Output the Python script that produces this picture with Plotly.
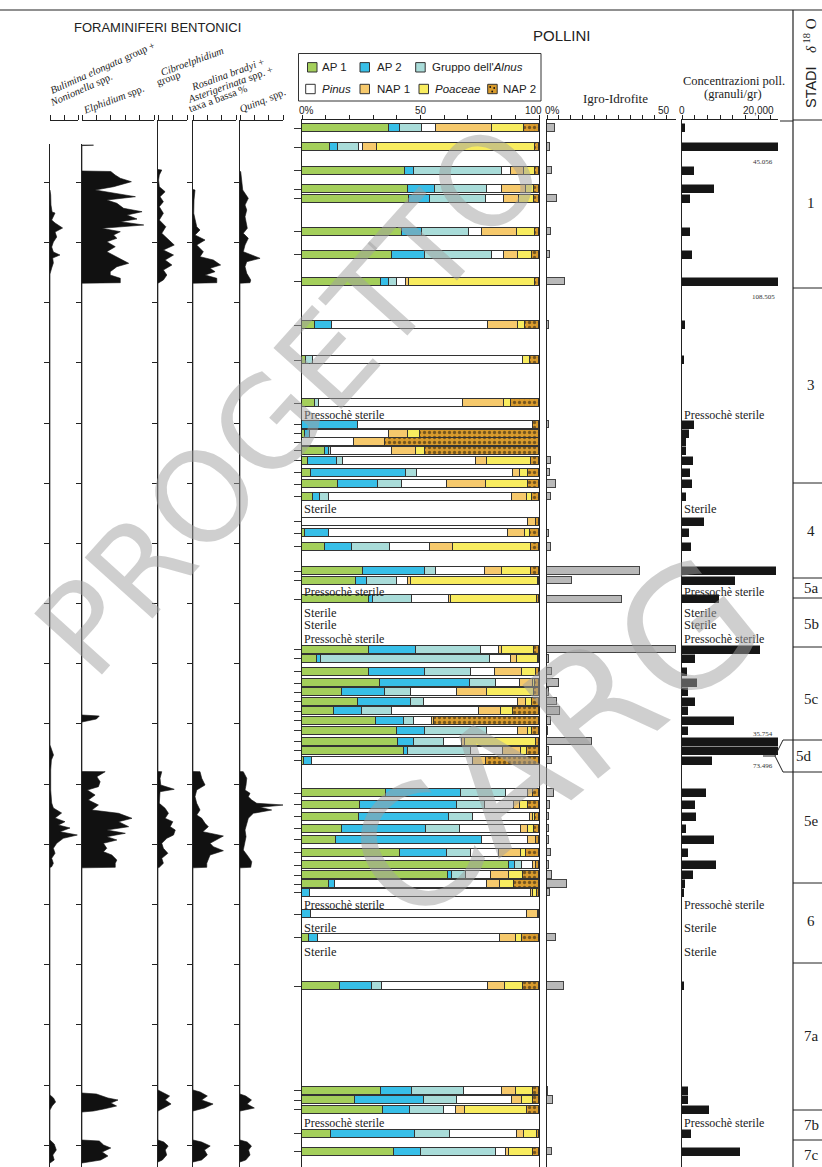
import plotly.graph_objects as go

W, H = 822, 1167
def px(x): return x / W
def py(y): return 1 - y / H

# ---------------- DATA ----------------
sample_depth = [128, 147, 170.5, 189, 198.7, 231.7, 254.7, 281.7, 325, 360, 403.3, 424.7, 433.7, 442,
                450.5, 460.5, 472.5, 484, 496.7, 521.5, 533.3, 546.8, 571, 580.5, 599.3, 649.5, 658.8,
                671.7, 683, 692, 701.5, 711, 720.8, 730.8, 741.5, 750.8, 760.5, 793.2, 804.8, 816.5,
                828.5, 839.8, 852.5, 865.2, 875.2, 884.2, 892.5, 914.2, 937.5, 986, 1090.8, 1100.2,
                1109.8, 1133.5, 1151.5]

ap1 = [36.6, 12.0, 43.4, 44.6, 45.2, 42.0, 38.0, 33.5, 5.5, 1.7, 5.4, 0, 1.1, 0, 9.6, 2.5, 3.8, 15.1, 4.5,
       0, 1.1, 9.9, 25.6, 22.8, 28.2, 28.2, 6.3, 28.2, 32.7, 16.9, 23.5, 13.7, 31.4, 39.9, 40.4, 43.0,
       0.7, 35.5, 24.6, 24.2, 16.9, 14.4, 41.5, 87.3, 61.7, 11.3, 0, 0, 3.1, 16.0, 33.4, 22.5, 34.1,
       12.3, 38.7]
ap2 = [4.6, 3.2, 3.8, 11.4, 8.7, 8.5, 13.8, 3.1, 7.2, 0, 0, 23.7, 2.4, 0, 1.7, 12.3, 39.9, 17.0, 3.2,
       0, 10.1, 11.3, 26.5, 4.6, 1.8, 19.7, 1.7, 23.7, 38.0, 18.3, 22.5, 11.7, 11.5, 11.8, 7.0, 1.7,
       3.5, 31.7, 40.8, 37.7, 35.5, 61.4, 19.7, 2.5, 1.7, 2.5, 3.5, 3.9, 3.7, 13.5, 13.1, 28.9, 11.4,
       35.2, 11.7]
alnus = [9.4, 8.7, 37.3, 22.1, 23.9, 20.0, 28.5, 3.5, 0, 3.0, 1.7, 0, 0, 0, 1.1, 2.5, 4.9, 9.9, 3.9,
         0, 0, 15.9, 4.5, 12.7, 16.5, 27.7, 71.5, 19.3, 11.0, 10.6, 5.4, 12.7, 4.2, 26.2, 12.7, 26.5,
         0, 19.0, 12.0, 10.3, 14.1, 0, 10.1, 3.1, 5.9, 0, 0, 0, 0, 4.2, 21.8, 13.8, 14.4, 14.9, 31.5]
pinus = [5.9, 1.8, 3.5, 6.1, 7.6, 5.6, 4.9, 3.8, 65.8, 88.6, 61.0, 73.8, 33.1, 21.8, 25.6, 56.3, 40.6,
         19.3, 77.0, 95.5, 75.6, 16.9, 20.6, 4.5, 15.5, 7.5, 8.5, 10.3, 10.1, 19.4, 39.9, 36.6, 7.7,
         13.4, 7.5, 13.4, 67.9, 9.3, 12.0, 24.2, 26.1, 19.6, 12.0, 4.5, 10.3, 64.4, 93.0, 91.1, 76.6,
         44.7, 15.9, 23.5, 4.9, 28.5, 4.2]
nap1 = [23.7, 5.9, 5.6, 10.4, 6.3, 14.8, 6.1, 1.4, 12.7, 0, 17.2, 0, 8.2, 13.2, 9.9, 4.5, 2.7, 16.2,
        6.3, 3.1, 7.5, 9.7, 7.0, 1.5, 1.0, 1.1, 2.8, 11.5, 5.6, 13.0, 3.1, 9.4, 1.1, 4.2, 1.0, 7.7,
        5.4, 2.0, 2.4, 1.0, 2.8, 3.2, 8.9, 1.4, 7.7, 5.2, 1.0, 4.6, 6.8, 7.2, 5.9, 4.2, 3.9, 2.8, 1.4]
poaceae = [13.5, 66.6, 4.6, 3.4, 6.2, 7.2, 5.9, 53.0, 3.0, 3.0, 2.8, 0, 4.8, 0, 3.9, 18.7, 3.5, 17.9,
           2.1, 0, 2.1, 32.8, 12.4, 53.4, 36.2, 13.8, 8.7, 5.9, 1.1, 19.7, 2.8, 4.9, 0, 1.4, 30.3,
           2.8, 0, 0, 3.7, 1.0, 2.5, 0, 2.5, 0, 6.1, 6.1, 1.8, 0, 2.8, 7.6, 7.3, 4.5, 26.1, 5.6, 9.9]
nap2 = [6.2, 1.7, 1.7, 2.0, 2.0, 2.0, 2.8, 1.7, 5.8, 3.7, 12.0, 2.5, 50.4, 65.0, 48.2, 3.2, 4.6, 4.6,
        3.0, 1.4, 3.6, 3.5, 3.4, 0.5, 0.8, 2.0, 0.5, 1.1, 1.5, 2.1, 2.8, 11.0, 44.1, 3.1, 1.1, 4.9,
        22.5, 2.5, 4.5, 1.6, 2.1, 1.4, 5.3, 1.2, 6.6, 10.5, 0.7, 0.4, 7.0, 6.8, 2.6, 2.6, 5.2, 0.7, 2.6]

igro = [3.5, 1.4, 2.1, 0, 4.0, 1.5, 1.1, 7.5, 1.0, 0, 0, 1.0, 0, 0, 0, 1.5, 1.1, 3.6, 1.5, 0, 1.0, 1.5,
        39, 10.5, 31.5, 54, 1.0, 2.2, 5.0, 1.0, 4.0, 5.3, 1.5, 0.5, 19, 0.8, 2.2, 3.0, 1.2, 1.0, 1.0,
        1.0, 1.8, 0.8, 2.1, 8.5, 1.1, 0, 3.6, 7.0, 0.5, 2.5, 0, 0, 2.0]

conc = [800, 45056, 3200, 8400, 2100, 2100, 2600, 108505, 800, 500, 0, 3200, 1800, 1000, 1000, 2900,
        2100, 2600, 1000, 5800, 1800, 2400, 24700, 13900, 9700, 20500, 3400, 1300, 3900, 1700, 3400,
        1500, 13600, 1600, 35754, 73496, 7900, 6300, 3400, 3700, 1000, 8400, 1600, 8900, 2900, 800,
        500, 0, 0, 500, 1600, 1600, 7100, 2400, 15300]
conc_big_labels = ["45.056", "108.505", "35.754", "73.496"]
conc_big_index = [1, 7, 34, 35]

# benthic foraminifera (% values at depth)
bul_depth = [190, 195, 205, 212, 213, 217, 220, 223, 228, 232, 237, 242, 247, 252, 255, 258, 263, 268,
             272, 274, 745, 750, 755, 760, 770, 790, 800, 803, 808, 813, 818, 821.7, 825, 828, 831.7,
             835, 838.3, 843.3, 848.3, 853.3, 858.3, 863.3, 866.7, 867.5, 1095, 1098, 1102, 1106, 1110,
             1140, 1144, 1150, 1155, 1160, 1163]
bul_val = [0, 0.5, 0.7, 1.5, 3.6, 2.4, 1.2, 3.6, 9.0, 3.6, 4.8, 2.4, 1.2, 2.4, 7.1, 1.9, 2.4, 1.2, 0.5,
           0, 0, 1.5, 2.5, 1.0, 0.5, 0.5, 1.0, 1.2, 2.4, 8.3, 3.6, 10.7, 6.0, 14.3, 7.1, 19.5, 9.5, 4.8,
           2.4, 3.6, 1.2, 2.4, 1.2, 0, 0, 2.5, 4, 1.5, 0, 0, 3, 4.5, 2, 3, 0]

elp_depth = [145, 145.2, 145.6, 171, 171.5, 175, 178.3, 181.7, 186.7, 190, 193.3, 196.7, 200, 203.3,
             208.3, 211.7, 215, 219, 221.7, 225, 228.3, 231.7, 235, 238.3, 241.7, 246.7, 251.7, 256.7,
             263.3, 266.7, 271.7, 275, 278.3, 282.7, 283.2, 715, 716, 719, 722, 771.5, 771.7, 776.7,
             781.7, 786.7, 790, 795, 800, 805, 810, 813.3, 818.3, 821.7, 826.7, 830, 833.3, 836.7, 840,
             843.3, 848.3, 851.7, 855, 860, 863.3, 867.3, 867.8, 1093, 1094, 1098, 1100, 1103, 1106,
             1109, 1111, 1112, 1140, 1141, 1145, 1148, 1152, 1156, 1160, 1163]
elp_val = [0, 8, 0, 0, 20, 23, 26.6, 34.3, 21.9, 9.1, 21.9, 37.1, 17.2, 24.2, 28.9, 41.7, 31.2, 38.2,
           26.6, 42.9, 13.8, 26.6, 21.9, 24.2, 17.2, 23.1, 17.2, 24.2, 32.4, 24.2, 19.6, 19.6, 26.6,
           26.6, 0, 0, 12, 10, 0, 0, 16.1, 10.3, 12.6, 11.4, 3.7, 9.1, 4.4, 11.4, 6.8, 25.4, 34.7, 25.4,
           32.4, 17.2, 30.1, 17.2, 24.2, 14.9, 17.2, 14.9, 20.7, 24.2, 23.1, 23.1, 0, 0, 10, 18, 25, 20,
           24, 15, 8, 0, 0, 12, 15, 20, 14, 18, 13, 0]

cib_depth = [169.5, 170, 175, 180, 186.7, 191.7, 196.7, 201.7, 206.7, 213.3, 220, 226.7, 233.3, 238.3,
             245, 250, 255, 260, 265, 270, 275, 280, 282.7, 283.2, 771.5, 771.7, 778.3, 785, 789.3,
             791.7, 803.3, 808.3, 813.3, 818.3, 821.7, 826.7, 830, 835, 838.3, 843.3, 848.3, 853.3,
             858.3, 863.3, 867.3, 867.8, 1090, 1092, 1096, 1100, 1104, 1108, 1111, 1140, 1142, 1146,
             1150, 1155, 1160, 1162]
cib_val = [0, 2.6, 0.9, 0.4, 0.9, 4.9, 1.4, 3.7, 0.9, 3.7, 0.9, 5.4, 2.6, 6.1, 11.2, 3.7, 10.7, 4.9,
           9.6, 3.7, 6.1, 3.7, 0.4, 0, 0, 2.6, 1.4, 1.9, 11.2, 1.4, 0.9, 4.9, 7.2, 4.9, 10.2, 8.4, 11.9,
           10.7, 6.1, 2.6, 3.7, 6.8, 2.6, 3.7, 0.9, 0, 0, 3, 8, 5, 9, 4, 0, 0, 4, 7, 5, 6, 3, 0]

ros_depth = [189.5, 190, 200, 213.3, 226.7, 230, 235, 240, 245, 251.7, 256.7, 260, 265, 268.3, 271.7,
             275, 278.3, 282.7, 283.2, 771.5, 771.7, 778.3, 785, 790, 796.7, 803.3, 810, 815, 818.3,
             823.3, 826.7, 831.7, 836, 840, 843.3, 846.7, 850.7, 855, 860, 863.3, 867.3, 867.8, 1090,
             1092, 1096, 1100, 1104, 1108, 1111, 1140, 1142, 1146, 1150, 1155, 1160, 1162]
ros_val = [0, 1.4, 0.7, 0.5, 2.6, 4.9, 1.4, 8.4, 2.6, 7.2, 4.9, 14.2, 19.3, 11.9, 15.4, 8.4, 16.6, 16.6,
           0, 0, 4.9, 6.1, 8.4, 2.6, 1.4, 2.6, 4.9, 2.6, 6.1, 8.4, 10.7, 6.8, 21.2, 16.6, 11.9, 14.2,
           21.2, 11.9, 10.7, 9.6, 9.6, 0, 0, 5, 10, 6, 14, 8, 0, 0, 6, 12, 8, 10, 6, 0]

qui_depth = [171.2, 171.7, 190, 198.3, 205, 210, 216.7, 228.3, 233.3, 238.3, 245, 251.7, 258.3, 261.7,
             266.7, 273.3, 280, 282.7, 283.2, 771.5, 771.7, 778.3, 785, 790, 793.3, 796.7, 800, 803.3,
             805, 807.3, 810, 813.3, 818.3, 823.3, 830, 836.7, 843.3, 850, 856.7, 861.7, 867.3, 867.8,
             1094, 1096, 1100, 1104, 1108, 1111, 1140, 1142, 1146, 1150, 1155, 1160, 1162]
qui_val = [0, 0.5, 1.9, 5.8, 3.5, 4.7, 3.5, 5.1, 2.3, 5.8, 3.5, 2.3, 14, 4.7, 3.5, 4.7, 7.5, 7.0, 0, 0,
           2.3, 4.7, 4.2, 3.5, 7.0, 5.8, 8.2, 11.7, 30.8, 14, 22.1, 9.3, 5.8, 4.7, 3.5, 4.2, 3.5, 2.3,
           5.8, 8.2, 7.5, 0, 0, 4, 8, 5, 10, 0, 0, 5, 8, 6, 7, 4, 0]

foram_ticks = [182, 242, 302, 362, 423, 483, 543, 603, 663, 723, 784, 844, 904, 964, 1024, 1085, 1145]

pollen_sterile_labels = ["Pressochè sterile", "Sterile", "Pressochè sterile", "Sterile", "Sterile",
                         "Pressochè sterile", "Pressochè sterile", "Sterile", "Sterile", "Pressochè sterile"]
pollen_sterile_depth = [415, 509, 592, 613, 625, 639, 905, 928, 952, 1123]

stage_labels = ["1", "3", "4", "5a", "5b", "5c", "5d", "5e", "6", "7a", "7b", "7c"]
stage_label_depth = [203, 385, 531, 588, 624, 699, 756, 821, 921, 1036, 1125, 1155]
stage_bounds = [120, 288, 483, 578, 598, 647, 883, 963, 1110, 1140]

legend_names = ["AP 1", "AP 2", "Gruppo dell'<i>Alnus</i>", "<i>Pinus</i>", "NAP 1", "<i>Poaceae</i>", "NAP 2"]
colors = ["#a4cf5b", "#37bfe8", "#a9dcd9", "#ffffff", "#f6c96c", "#f8ec5f", "#d99b2c"]

# axis tick labels: (label, value) for each panel
pollen_ticklabels = [("0%", 0), ("50", 50), ("100", 100)]
igro_ticklabels = [("0%", 0), ("50", 50)]
conc_ticklabels = [("0", 0), ("20,000", 20000)]

# ---------------- FIGURE ----------------
fig = go.Figure()
Y_TOP, Y_BOT = 120, 1167
layout = {}

foram_cols = [  # (left px, right px, max %, top px of y line)
    (50, 78, 20, 144), (82, 154, 50, 144), (158, 187, 20, 120), (193, 236, 30, 120), (240, 283, 30, 120)]
foram_data = [(bul_depth, bul_val), (elp_depth, elp_val), (cib_depth, cib_val),
              (ros_depth, ros_val), (qui_depth, qui_val)]

for i, ((l, r, mx, ytop), (d, v)) in enumerate(zip(foram_cols, foram_data), start=1):
    layout[f"xaxis{i}"] = dict(domain=[px(l), px(r)], range=[0, mx], side="top", anchor="free",
                               position=py(Y_TOP), tickvals=list(range(0, mx + 1, 10)), ticks="outside",
                               ticklen=5, tickcolor="#222", showticklabels=False, showline=True,
                               linecolor="#222", linewidth=1, showgrid=False, zeroline=False)
    layout[f"yaxis{i}"] = dict(domain=[0, py(ytop)], range=[Y_BOT, ytop], anchor=f"x{i}",
                               tickvals=foram_ticks, ticks="outside", ticklen=5, tickcolor="#222",
                               showticklabels=False, showline=True, linecolor="#222", linewidth=1,
                               showgrid=False, zeroline=False)
    fig.add_trace(go.Scatter(x=v, y=d, mode="lines", fill="tozerox", fillcolor="#111",
                             line=dict(color="#111", width=0.6), xaxis=f"x{i}", yaxis=f"y{i}",
                             showlegend=False, hoverinfo="skip"))

# pollen stacked bars
series = [ap1, ap2, alnus, pinus, nap1, poaceae, nap2]
for k, (vals, col) in enumerate(zip(series, colors)):
    marker = dict(color=col, line=dict(color="#333", width=1))
    if k == 6:
        marker["pattern"] = dict(shape=".", fgcolor="#111", size=5, solidity=0.35)
    fig.add_trace(go.Bar(x=vals, y=sample_depth, orientation="h", width=8, marker=marker,
                         xaxis="x6", yaxis="y6", showlegend=False, name=legend_names[k]))

layout["xaxis6"] = dict(domain=[px(302), px(539)], range=[0, 100], side="top", anchor="y6",
                        tickvals=[v for _, v in pollen_ticklabels], showticklabels=False,
                        ticks="outside", ticklen=4, tickcolor="#222",
                        minor=dict(dtick=10, ticks="outside", ticklen=4, tickcolor="#222"),
                        showline=True, linecolor="#222", linewidth=1, showgrid=False, zeroline=False)
layout["yaxis6"] = dict(domain=[0, py(Y_TOP)], range=[Y_BOT, Y_TOP], anchor="x6", tickvals=sample_depth,
                        ticks="outside", ticklen=7, tickcolor="#333", showticklabels=False, showline=True,
                        mirror=True, linecolor="#222", linewidth=1, showgrid=False, zeroline=False)

# igro-idrofite
fig.add_trace(go.Bar(x=igro, y=sample_depth, orientation="h", width=7.5,
                     marker=dict(color="#b9b9b9", line=dict(color="#444", width=1)),
                     xaxis="x7", yaxis="y7", showlegend=False))
layout["xaxis7"] = dict(domain=[px(547), px(676)], range=[0, 53.9], side="top", anchor="y7",
                        tickvals=[v for _, v in igro_ticklabels], showticklabels=False,
                        minor=dict(dtick=5, ticks="outside", ticklen=4, tickcolor="#222"),
                        ticks="outside", ticklen=4, tickcolor="#222",
                        showline=True, linecolor="#222", linewidth=1, showgrid=False, zeroline=False)
layout["yaxis7"] = dict(domain=[0, py(Y_TOP)], range=[Y_BOT, Y_TOP], anchor="x7", showticklabels=False,
                        ticks="", showline=True, linecolor="#222", linewidth=1, showgrid=False,
                        zeroline=False)

# concentrations
fig.add_trace(go.Bar(x=conc, y=sample_depth, orientation="h", width=8,
                     marker=dict(color="#161616", line=dict(color="#161616", width=0.5)),
                     xaxis="x8", yaxis="y8", showlegend=False))
layout["xaxis8"] = dict(domain=[px(682), px(778)], range=[0, 25260], side="top", anchor="y8",
                        tickvals=[v for _, v in conc_ticklabels], showticklabels=False,
                        minor=dict(tick0=0, dtick=10000 / 3, ticks="outside", ticklen=4, tickcolor="#222"),
                        ticks="outside", ticklen=4, tickcolor="#222", showline=True, linecolor="#222",
                        linewidth=1, showgrid=False, zeroline=False)
layout["yaxis8"] = dict(domain=[0, py(Y_TOP)], range=[Y_BOT, Y_TOP], anchor="x8", showticklabels=False,
                        ticks="", showline=True, linecolor="#222", linewidth=1, showgrid=False,
                        zeroline=False)

shapes = []
annots = []

def line(x0, y0, x1, y1, w=1, c="#222"):
    shapes.append(dict(type="line", xref="paper", yref="paper", x0=px(x0), y0=py(y0), x1=px(x1),
                       y1=py(y1), line=dict(color=c, width=w)))

def text(x, y, t, size=12, family="Liberation Sans", angle=0, xanchor="center", color="#222"):
    annots.append(dict(x=px(x), y=py(y), xref="paper", yref="paper", text=t,
                       showarrow=False, textangle=angle, xanchor=xanchor, yanchor="middle",
                       font=dict(family=family, size=size, color=color)))

# axis tick labels placed just above the axes
TICKFONT = dict(family="Liberation Sans", size=10, color="#222")
for (lab, v), shift in zip(pollen_ticklabels, [4, 0, -6]):
    annots.append(dict(x=v, y=py(111), xref="x6", yref="paper", text=lab, showarrow=False, xshift=shift,
                       xanchor="center", yanchor="middle", font=TICKFONT))
for (lab, v), shift in zip(igro_ticklabels, [5, -3]):
    annots.append(dict(x=v, y=py(111), xref="x7", yref="paper", text=lab, showarrow=False, xshift=shift,
                       xanchor="center", yanchor="middle", font=TICKFONT))
for (lab, v) in conc_ticklabels:
    annots.append(dict(x=v, y=py(111), xref="x8", yref="paper", text=lab, showarrow=False,
                       xanchor="center", yanchor="middle", font=TICKFONT))

# frame lines
line(0, 10, 822, 10, 1.2)
line(793, 10, 793, 1167, 1.2)
line(793, 120, 822, 120, 1)
line(780, 121, 793, 121, 1)
for b in stage_bounds[1:]:
    line(793, b, 822, b, 1)
# 5d pointer
shapes.append(dict(type="path", xref="paper", yref="paper",
                   path=f"M {px(822)},{py(740)} L {px(783)},{py(740)} L {px(775)},{py(756)} "
                        f"L {px(783)},{py(772)} L {px(822)},{py(772)}",
                   line=dict(color="#222", width=1)))
line(763, 756, 775, 756, 1)

# titles
text(157, 27, "FORAMINIFERI BENTONICI", 13)
text(562, 35, "POLLINI", 15)
text(615, 98, "Igro-Idrofite", 13, "Liberation Serif")
text(734, 81, "Concentrazioni poll.", 12.5, "Liberation Serif")
text(733, 94, "(granuli/gr)", 12.5, "Liberation Serif")
text(811, 87, "STADI", 14.5, angle=-90)
text(810, 36, "<i>δ</i><sup> 18</sup> O", 15, "Liberation Serif", angle=-90)

# foram headers
SER = "Liberation Serif"
text(103, 68, "<i>Bulimina elongata</i> group +", 10.5, SER, -24)
text(81, 89, "<i>Nonionella</i> spp.", 10.5, SER, -24)
text(113, 99, "<i>Elphidium</i> spp.", 10.5, SER, -21)
text(192, 61, "<i>Cibroelphidium</i>", 10.5, SER, -20)
text(168, 78, "group", 10.5, SER, -20)
text(227, 74, "<i>Rosalina bradyi</i> +", 10.5, SER, -20)
text(230, 84, "<i>Asterigerinata</i> spp. +", 10.5, SER, -20)
text(218, 98, "taxa a bassa %", 10.5, SER, -20)
text(262, 100, "<i>Quinq.</i> spp.", 10.5, SER, -22)

# legend box
shapes.append(dict(type="rect", xref="paper", yref="paper", x0=px(298.5), y0=py(53.5), x1=px(541),
                   y1=py(101), line=dict(color="#333", width=1), fillcolor="rgba(0,0,0,0)"))
leg_pos = [(307.5, 67.3, 320), (360, 67.3, 375), (415.7, 67.3, 430), (305.7, 89, 320),
           (360, 89, 375), (419, 89, 433), (487.7, 89, 501)]
for (sx, sy, tx), name, col in zip(leg_pos, legend_names, colors):
    shapes.append(dict(type="rect", xref="paper", yref="paper", x0=px(sx), y0=py(sy - 4.7),
                       x1=px(sx + 9.5), y1=py(sy + 4.7), fillcolor=col, line=dict(color="#333", width=1)))
    text(tx, sy, name, 11.5, xanchor="left")
for dx, dy in [(2.5, -2), (6.5, -1), (4.5, 2.5)]:
    shapes.append(dict(type="circle", xref="paper", yref="paper", x0=px(487.7 + dx - 0.9),
                       y0=py(89 + dy - 0.9), x1=px(487.7 + dx + 0.9), y1=py(89 + dy + 0.9),
                       fillcolor="#111", line=dict(width=0)))

# sterile labels
for t, d in zip(pollen_sterile_labels, pollen_sterile_depth):
    for xx in (302, 682):
        annots.append(dict(x=px(xx), y=d, xref="paper", yref="y6", text=t, showarrow=False,
                           xanchor="left", yanchor="middle",
                           font=dict(family=SER, size=12.5 if t == "Sterile" else 12, color="#222")))

# big concentration value labels
for lab, idx in zip(conc_big_labels, conc_big_index):
    off = -8 if idx == 34 else 15
    annots.append(dict(x=px(763), y=sample_depth[idx] + off, xref="paper", yref="y6", text=lab,
                       showarrow=False, xanchor="center", yanchor="middle",
                       font=dict(family=SER, size=7, color="#333")))

# stage labels
for t, d in zip(stage_labels, stage_label_depth):
    annots.append(dict(x=px(811 if t != "5d" else 804), y=d, xref="paper", yref="y6", text=t,
                       showarrow=False, xanchor="center", yanchor="middle",
                       font=dict(family=SER, size=15, color="#222")))

# watermark
annots.append(dict(x=px(290), y=py(400), xref="paper", yref="paper", text="PROGETTO", showarrow=False,
                   xanchor="center", yanchor="middle", textangle=-48,
                   font=dict(family="DejaVu Sans", size=125, color="rgba(160,160,160,0.5)")))
annots.append(dict(x=px(555), y=py(740), xref="paper", yref="paper", text="CARG", showarrow=False,
                   xanchor="center", yanchor="middle", textangle=-39,
                   font=dict(family="DejaVu Sans", size=165, color="rgba(160,160,160,0.5)")))

fig.update_layout(width=W, height=H, margin=dict(l=0, r=0, t=0, b=0), paper_bgcolor="white",
                  plot_bgcolor="rgba(0,0,0,0)", barmode="stack", bargap=0, showlegend=False,
                  shapes=shapes, annotations=annots, **layout)

fig.write_html("out.html", config={"displayModeBar": False},
               post_script="document.body.style.margin='0';document.body.style.padding='0';")
